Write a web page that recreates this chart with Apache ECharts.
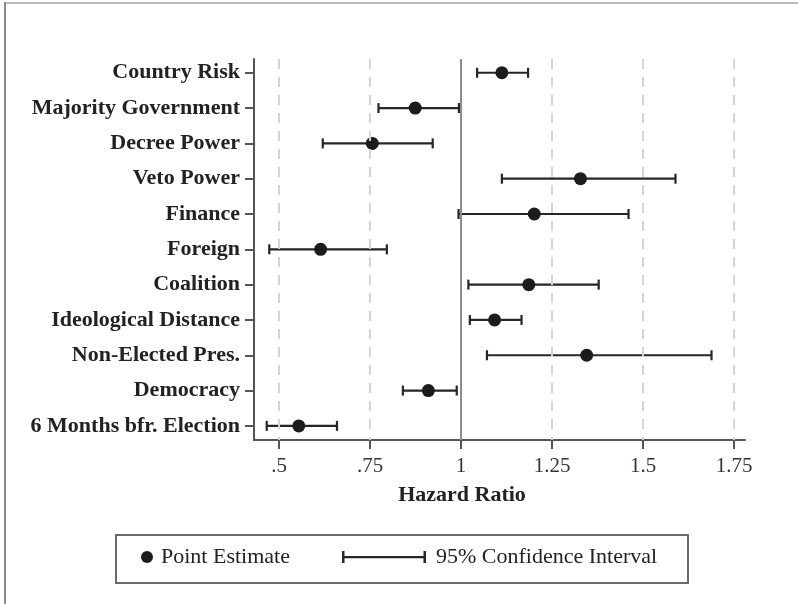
<!DOCTYPE html>
<html><head><meta charset="utf-8">
<script src="https://cdn.jsdelivr.net/npm/echarts@6/dist/echarts.min.js"></script>
<style>html,body{margin:0;padding:0;background:#fff}#c{width:798px;height:604px}</style>
</head><body><div id="c"></div>
<script>
// Rows listed top to bottom
const categories = ['Country Risk','Majority Government','Decree Power','Veto Power','Finance','Foreign','Coalition','Ideological Distance','Non-Elected Pres.','Democracy','6 Months bfr. Election'];
const pointEstimates = [1.112, 0.874, 0.756, 1.328, 1.201, 0.614, 1.186, 1.092, 1.345, 0.910, 0.554];
const ciLow  = [1.044, 0.773, 0.620, 1.112, 0.993, 0.473, 1.020, 1.024, 1.071, 0.840, 0.466];
const ciHigh = [1.184, 0.994, 0.922, 1.589, 1.460, 0.796, 1.378, 1.166, 1.688, 0.988, 0.659];
const xTicks = [0.5, 0.75, 1, 1.25, 1.5, 1.75];
const xTickLabels = ['.5', '.75', '1', '1.25', '1.5', '1.75'];
const rowIndex = categories.map((c, i) => i);

const chart = echarts.init(document.getElementById('c'), null, {renderer: 'canvas'});
const serif = '"Liberation Serif", "DejaVu Serif", serif';
const axisColor = '#555';
const inkColor = '#262626';

const option = {
  animation: false,
  backgroundColor: '#fff',
  grid: {left: 254, right: 53, top: 59, bottom: 164, containLabel: false},
  xAxis: {
    type: 'value', min: 0.431, max: 1.78,
    axisLine: {show: true, onZero: false, lineStyle: {color: axisColor, width: 2}},
    axisTick: {show: true, length: 9, lineStyle: {color: axisColor, width: 2}, customValues: xTicks},
    axisLabel: {
      customValues: xTicks, margin: 16,
      fontFamily: serif, fontSize: 21, color: '#333',
      formatter: function (v) {
        for (let i = 0; i < xTicks.length; i++) if (Math.abs(xTicks[i] - v) < 1e-6) return xTickLabels[i];
        return '';
      }
    },
    splitLine: {show: false}
  },
  yAxis: {
    type: 'value', min: -0.39, max: 10.4, inverse: true,
    axisLine: {show: true, onZero: false, lineStyle: {color: axisColor, width: 2}},
    axisTick: {show: true, length: 9, lineStyle: {color: axisColor, width: 2}, customValues: rowIndex},
    axisLabel: {
      customValues: rowIndex, margin: 14,
      fontFamily: serif, fontSize: 22, fontWeight: 'bold', color: '#222',
      formatter: function (v) { return categories[Math.round(v)] || ''; }
    },
    splitLine: {show: false}
  },
  legend: [
    {
      data: ['Point Estimate'], left: 141, top: 546, padding: 0,
      itemWidth: 12, itemHeight: 12, icon: 'circle', selectedMode: false,
      textStyle: {fontFamily: serif, fontSize: 22, color: '#222', padding: [0, 0, 0, 3]}
    },
    {
      data: ['95% Confidence Interval'], left: 342, top: 546, padding: 0,
      itemWidth: 84, itemHeight: 12, selectedMode: false,
      icon: 'path://M0,0h2.5v12h-2.5z M2.5,5h79v2.2h-79z M81.5,0h2.5v12h-2.5z',
      textStyle: {fontFamily: serif, fontSize: 22, color: '#222', padding: [0, 0, 0, 5]}
    }
  ],
  graphic: [
    {type: 'line', shape: {x1: 4, y1: 3, x2: 798, y2: 3}, style: {stroke: '#bdbdbd', lineWidth: 2}},
    {type: 'line', shape: {x1: 5, y1: 2, x2: 5, y2: 604}, style: {stroke: '#8a8a8a', lineWidth: 2}},
    {type: 'rect', shape: {x: 116, y: 535, width: 572, height: 48}, style: {fill: 'none', stroke: '#6a6a6a', lineWidth: 2}},
    {type: 'text', x: 462, y: 495, style: {text: 'Hazard Ratio', font: 'bold 22px ' + serif, align: 'center', verticalAlign: 'middle', fill: '#222'}}
  ],
  series: [
    {
      name: 'refLines', type: 'scatter', data: [], z: 1, silent: true,
      markLine: {
        silent: true, symbol: 'none', animation: false,
        label: {show: false},
        data: xTicks.map(v => ({
          xAxis: v,
          lineStyle: v === 1 ? {type: 'solid', color: '#8c8c8c', width: 2} : {type: [10, 8], color: '#d4d4d4', width: 2}
        }))
      }
    },
    {
      name: '95% Confidence Interval', type: 'custom', z: 3,
      itemStyle: {color: inkColor},
      encode: {x: [0, 1], y: 2},
      data: categories.map((c, i) => [ciLow[i], ciHigh[i], i]),
      renderItem: function (params, api) {
        const y = api.value(2);
        const p1 = api.coord([api.value(0), y]);
        const p2 = api.coord([api.value(1), y]);
        const h = 5;
        const st = {stroke: inkColor, lineWidth: 2.2};
        return {type: 'group', children: [
          {type: 'line', shape: {x1: p1[0], y1: p1[1], x2: p2[0], y2: p2[1]}, style: st},
          {type: 'line', shape: {x1: p1[0], y1: p1[1] - h, x2: p1[0], y2: p1[1] + h}, style: st},
          {type: 'line', shape: {x1: p2[0], y1: p2[1] - h, x2: p2[0], y2: p2[1] + h}, style: st}
        ]};
      }
    },
    {
      name: 'Point Estimate', type: 'scatter', z: 4,
      symbol: 'circle', symbolSize: 13,
      itemStyle: {color: '#1c1c1c', opacity: 1},
      data: pointEstimates.map((v, i) => [v, i])
    }
  ]
};
chart.setOption(option);
</script>
</body></html>
